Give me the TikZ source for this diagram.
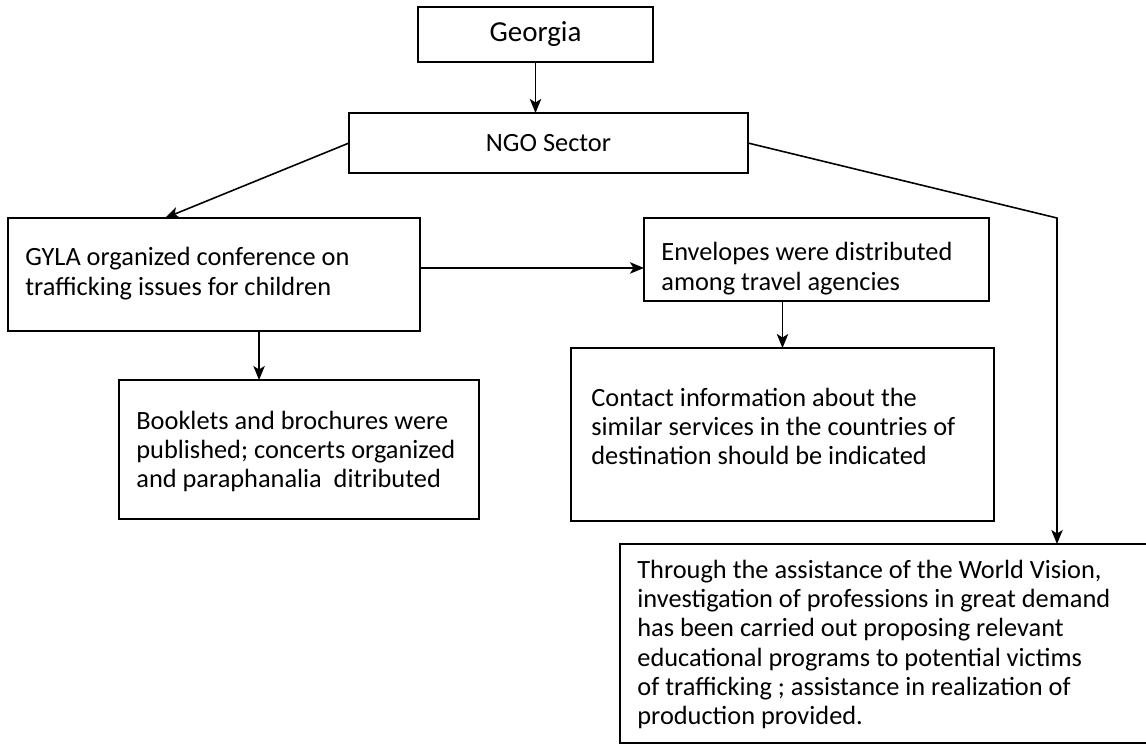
\documentclass[tikz,border=0pt]{standalone}
\usepackage{fontspec}
\setmainfont{Carlito}
\usetikzlibrary{arrows.meta,calc}
\begin{document}
\begin{tikzpicture}[x=0.02cm,y=-0.02cm,
  every node/.style={font=\fontsize{15pt}{16.7pt}\selectfont},
  box/.style={draw=black,line width=0.9pt,rectangle,inner sep=0pt,outer sep=0pt},
  txt/.style={align=left,inner sep=0pt,anchor=west},
  conn/.style={line width=0.9pt,-{Stealth[length=8pt,width=6.5pt,inset=2pt]}}
]
\useasboundingbox (0,0) rectangle (1146,745);
% boxes
\node[box,minimum width=4.70cm,minimum height=1.10cm,font=\fontsize{16.5pt}{18pt}\selectfont] (geo) at (535.5,34.5) {Georgia};
\node[box,minimum width=7.98cm,minimum height=1.20cm] (ngo) at (548.5,143) {NGO Sector};
\node[box,minimum width=8.24cm,minimum height=2.26cm] (gyla) at (214,274.5) {};
\node[box,minimum width=6.90cm,minimum height=1.66cm] (env) at (816.5,259.5) {};
\node[box,minimum width=7.20cm,minimum height=2.78cm] (book) at (299,449.5) {};
\node[box,minimum width=8.46cm,minimum height=3.46cm] (cont) at (782.5,434.5) {};
\node[inner sep=0pt,outer sep=0pt,minimum width=10.60cm,minimum height=3.98cm] (wv) at (885,643.5) {};
\draw[line width=0.9pt] (wv.north east) -- (wv.north west) -- (wv.south west) -- (wv.south east);
% texts
\node[txt] (gylat) at ($(gyla.west)+(17,-1)$) {GYLA organized conference on\\trafficking issues for children};
\node[txt] (envt) at ($(env.west)+(17,9)$) {Envelopes were distributed\\among travel agencies};
\node[txt] (bookt) at ($(book.west)+(17,2)$) {Booklets and brochures were\\published; concerts organized\\and paraphanalia\ \ ditributed};
\node[txt] (contt) at ($(cont.west)+(20,-8)$) {Contact information about the\\similar services in the countries of\\destination should be indicated};
\node[txt] (wvt) at ($(wv.west)+(17,1)$) {Through the assistance of the World Vision,\\investigation of professions in great demand\\has been carried out proposing relevant\\educational programs to potential victims\\of trafficking ; assistance in realization of\\production provided.};
% connectors
\coordinate (bend) at (1057,218);
\draw[conn] (geo.south) -- (geo.south |- ngo.north);
\draw[conn] (ngo.west) -- ($(gyla.north west)!0.381!(gyla.north east)$);
\draw[conn] (ngo.east) -- (bend) -- (bend |- wv.north);
\coordinate (gr) at ($(gyla.north east)!0.442!(gyla.south east)$);
\draw[conn] (gr) -- (gr -| env.west);
\draw[conn] (cont.north |- env.south) -- (cont.north);
\coordinate (bt) at ($(book.north west)!0.389!(book.north east)$);
\draw[conn] (bt |- gyla.south) -- (bt);
\end{tikzpicture}
\end{document}
